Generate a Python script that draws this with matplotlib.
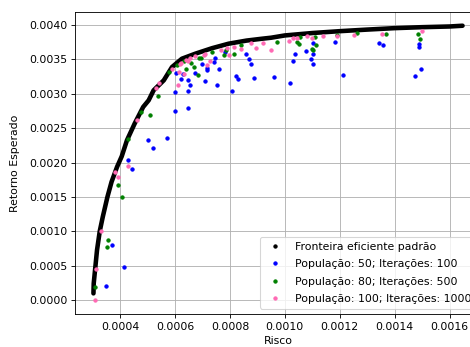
import numpy as np
from matplotlib import pyplot as plt
from matplotlib.lines import Line2D

# fronteira eficiente
front_x = [0.000303, 0.000304, 0.000310, 0.000316, 0.000326, 0.000337, 0.000354,
           0.000369, 0.000389, 0.000406, 0.000425, 0.000453, 0.000484, 0.000504,
           0.000522, 0.000559, 0.000589, 0.000625, 0.000674, 0.000735, 0.000795,
           0.000860, 0.000916, 0.000950, 0.001000, 0.001100, 0.001200, 0.001300,
           0.001400, 0.001500, 0.001600, 0.001647]
front_y = [0.000100, 0.000246, 0.000487, 0.000729, 0.001004, 0.001212, 0.001502,
           0.001720, 0.001937, 0.002090, 0.002323, 0.002565, 0.002806, 0.002903,
           0.003048, 0.003193, 0.003386, 0.003507, 0.003580, 0.003660, 0.003725,
           0.003770, 0.003797, 0.003812, 0.003845, 0.003880, 0.003907, 0.003930,
           0.003951, 0.003965, 0.003975, 0.003986]

# Populacao 50, 100 iteracoes
p50_x = [0.000427, 0.000445, 0.000372, 0.000416, 0.000349, 0.000600, 0.000648,
         0.000599, 0.000646, 0.000503, 0.000570, 0.000520, 0.000602, 0.000622,
         0.000628, 0.000648, 0.000653, 0.000671, 0.000698, 0.000716, 0.000716,
         0.000743, 0.000744, 0.000761, 0.000708, 0.000753, 0.000807, 0.000822,
         0.000829, 0.000858, 0.000868, 0.000877, 0.000888, 0.000783, 0.000962,
         0.001017, 0.001031, 0.001037, 0.001077, 0.001095, 0.001103, 0.001104,
         0.001103, 0.001183, 0.001211, 0.001342, 0.001359, 0.001475, 0.001497,
         0.001490, 0.001490]
p50_y = [0.002038, 0.001899, 0.000797, 0.000483, 0.000207, 0.003019, 0.003033,
         0.002743, 0.002791, 0.002328, 0.002362, 0.002217, 0.003299, 0.003217,
         0.003290, 0.003203, 0.003120, 0.003299, 0.003435, 0.003371, 0.003338,
         0.003458, 0.003516, 0.003352, 0.003178, 0.003120, 0.003038, 0.003251,
         0.003217, 0.003570, 0.003507, 0.003435, 0.003226, 0.003603, 0.003241,
         0.003154, 0.003472, 0.003570, 0.003617, 0.003497, 0.003429, 0.003580,
         0.003739, 0.003754, 0.003265, 0.003739, 0.003710, 0.003255, 0.003362,
         0.003714, 0.003675]

# Populacao 80, 500 iteracoes
p80_x = [0.000408, 0.000393, 0.000357, 0.000351, 0.000310, 0.000539, 0.000477,
         0.000508, 0.000427, 0.000577, 0.000609, 0.000631, 0.000658, 0.000641,
         0.000670, 0.000685, 0.000688, 0.000696, 0.000735, 0.000785, 0.000779,
         0.000813, 0.000841, 0.000970, 0.001056, 0.001044, 0.001050, 0.001108,
         0.001113, 0.001098, 0.001102, 0.001189, 0.001262, 0.001367, 0.001486,
         0.001492]
p80_y = [0.001502, 0.001676, 0.000870, 0.000768, 0.000193, 0.002965, 0.002729,
         0.002696, 0.002338, 0.003313, 0.003420, 0.003468, 0.003449, 0.003362,
         0.003386, 0.003265, 0.003516, 0.003516, 0.003603, 0.003628, 0.003565,
         0.003580, 0.003700, 0.003748, 0.003820, 0.003748, 0.003725, 0.003820,
         0.003710, 0.003652, 0.003628, 0.003855, 0.003878, 0.003859, 0.003870,
         0.003797]

# Populacao 100, 1000 iteracoes
p100_x = [0.000427, 0.000383, 0.000393, 0.000332, 0.000313, 0.000307, 0.000463,
          0.000532, 0.000543, 0.000589, 0.000613, 0.000634, 0.000612, 0.000617,
          0.000623, 0.000639, 0.000646, 0.000653, 0.000674, 0.000704, 0.000710,
          0.000716, 0.000728, 0.000767, 0.000789, 0.000795, 0.000813, 0.000840,
          0.000876, 0.000896, 0.000921, 0.000950, 0.001016, 0.001031, 0.001044,
          0.001080, 0.001100, 0.001138, 0.001189, 0.001252, 0.001355, 0.001498]
p100_y = [0.001946, 0.001860, 0.001787, 0.001004, 0.000449, 0.000000, 0.002613,
          0.003084, 0.003154, 0.003352, 0.003313, 0.003280, 0.003120, 0.003435,
          0.003449, 0.003493, 0.003468, 0.003522, 0.003541, 0.003565, 0.003580,
          0.003420, 0.003468, 0.003638, 0.003661, 0.003555, 0.003675, 0.003652,
          0.003733, 0.003661, 0.003739, 0.003635, 0.003758, 0.003806, 0.003812,
          0.003835, 0.003812, 0.003835, 0.003835, 0.003845, 0.003870, 0.003903]

dpi = 78
fig = plt.figure(figsize=(470/dpi, 347/dpi), dpi=dpi)
ax = fig.add_axes([75/470, 33/347, 406/470, 302/347])

ax.plot(front_x, front_y, '-', color='black', lw=4.2, solid_capstyle='round',
        solid_joinstyle='round')
ax.plot(p50_x, p50_y, '.', color='blue')
ax.plot(p80_x, p80_y, '.', color='green')
ax.plot(p100_x, p100_y, '.', color='hotpink')

labels = ['Fronteira eficiente padrão',
          'População: 50; Iterações: 100',
          'População: 80; Iterações: 500',
          'População: 100; Iterações: 1000']
cores = ['black', 'blue', 'green', 'hotpink']
handles = [Line2D([], [], ls='', marker='.', color=c) for c in cores]

ax.set_xticks(np.arange(0.0004, 0.00161, 0.0002))
ax.set_yticks(np.arange(0.0, 0.00401, 0.0005))
ax.grid(True)
ax.set_xlabel('Risco')
ax.set_ylabel('Retorno Esperado', labelpad=8)
ax.legend(handles, labels, loc='lower right', labelspacing=0.7)

fig.savefig('out.png', dpi=dpi)
